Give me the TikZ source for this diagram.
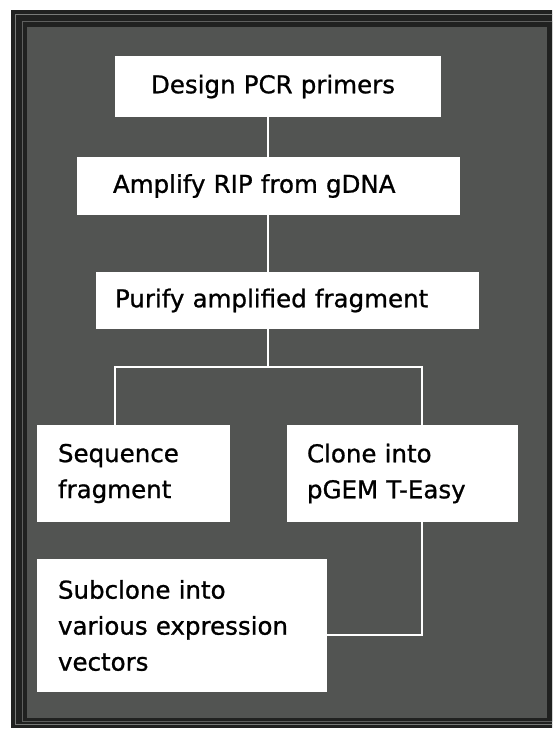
\documentclass[tikz,border=0pt]{standalone}
\usepackage{fontspec}
\setmainfont{DejaVu Sans}
\newfontfamily\boxfont{DejaVu Sans}[FakeBold=0.9]
\definecolor{framedark}{RGB}{32,33,32}
\definecolor{frameline}{RGB}{120,122,120}
\definecolor{panel}{RGB}{82,84,82}
\begin{document}
\begin{tikzpicture}[x=1pt,y=-1pt,
  stepbox/.style={fill=white, draw=none, inner ysep=0pt, align=left,
    font=\boxfont\fontsize{24.5}{36}\selectfont, anchor=center},
  conn/.style={white, line width=1.2pt}]
\useasboundingbox (0,0) rectangle (552,730);
\fill[white] (0,0) rectangle (552,730);
\begin{scope}
\clip (0,0) rectangle (552,730);
\fill[framedark] (11,10) rectangle (570,728);
\draw[frameline, line width=0.8pt] (15,14) rectangle (566,724);
\draw[frameline!70!framedark, line width=0.6pt] (22,21) rectangle (552,721);
\fill[panel] (27,27) rectangle (547,718);
\end{scope}
% boxes
\node[stepbox, inner xsep=36pt, text width=254pt, minimum height=61pt] (b1) at (278,86.5) {Design PCR primers};
\node[stepbox, inner xsep=36pt, text width=311pt, minimum height=58pt] (b2) at (268.5,186) {Amplify RIP from gDNA};
\node[stepbox, inner xsep=19pt, text width=345pt, minimum height=57pt] (b3) at (287.5,300.5) {Purify amplified fragment};
\node[stepbox, inner xsep=21pt, text width=151pt, minimum height=97pt] (b4) at (133.5,473.5) {Sequence\\fragment};
\node[stepbox, inner xsep=20pt, text width=191pt, minimum height=97pt] (b5) at (402.5,473.5) {Clone into\\pGEM T-Easy};
\node[stepbox, inner xsep=21pt, text width=248pt, minimum height=133pt] (b6) at (182,625.5) {Subclone into\\various expression\\vectors};
% connectors
\coordinate (split) at (268,367);
\coordinate (turn) at (422,635);
\draw[conn] (b1.south -| split) -- (b2.north -| split);
\draw[conn] (b2.south -| split) -- (b3.north -| split);
\draw[conn] (b3.south -| split) -- (split);
\draw[conn] (split) -- (115,367) -- (b4.north -| 115,0);
\draw[conn] (split) -- (422,367) -- (b5.north -| turn);
\draw[conn] (b5.south -| turn) -- (turn) -- (b6.east |- turn);
\end{tikzpicture}
\end{document}
